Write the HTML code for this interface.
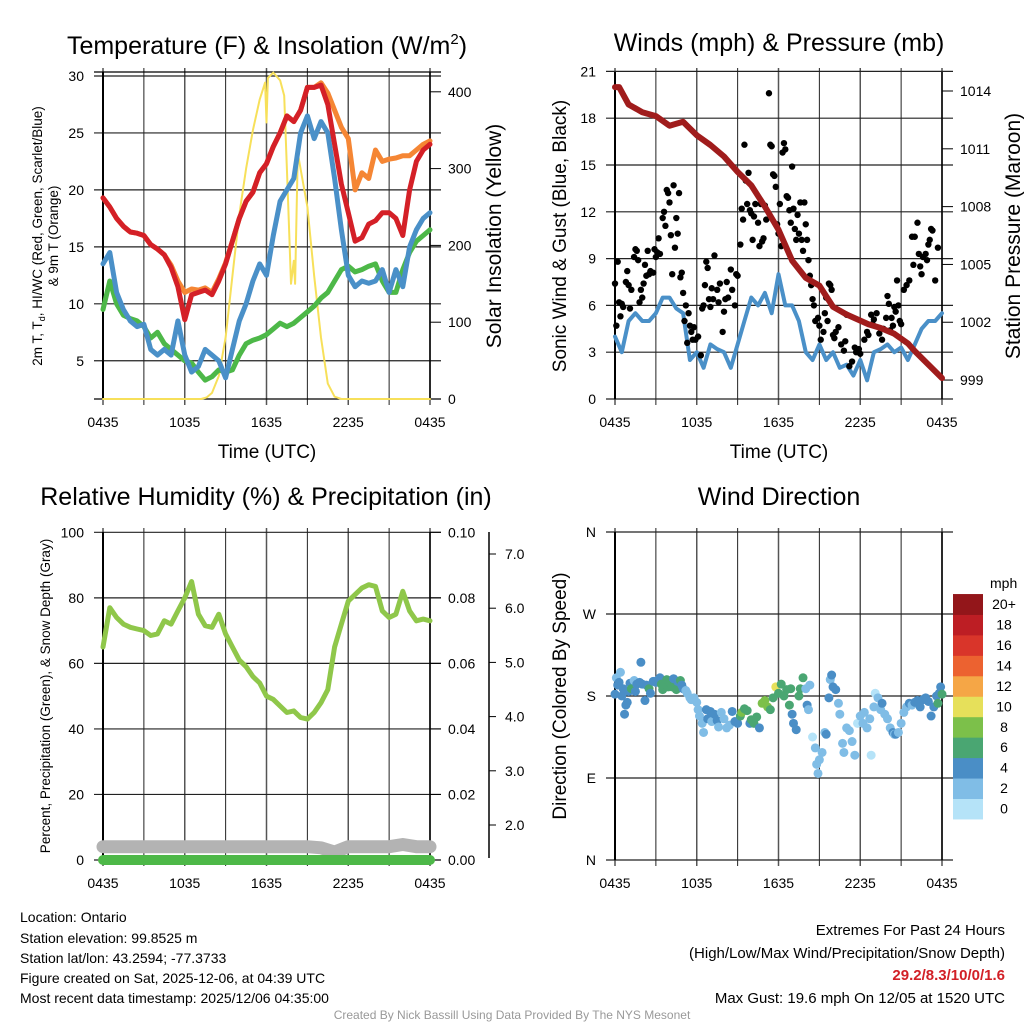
<!DOCTYPE html>
<html><head><meta charset="utf-8"><style>
html,body{margin:0;padding:0;background:#fff}
svg{display:block;font-family:"Liberation Sans",sans-serif}
</style></head><body>
<svg id="chart" width="1024" height="1024" viewBox="0 0 1024 1024" xmlns="http://www.w3.org/2000/svg">
<rect width="1024" height="1024" fill="#fff"/>
<g id="g"></g>
<g font-size="25" text-anchor="middle" fill="#000">
<text x="267" y="54">Temperature (F) &amp; Insolation (W/m<tspan dy="-10" font-size="15">2</tspan><tspan dy="10">)</tspan></text>
<text x="779" y="51">Winds (mph) &amp; Pressure (mb)</text>
<text x="266" y="505">Relative Humidity (%) &amp; Precipitation (in)</text>
<text x="779" y="505">Wind Direction</text>
</g>
<g font-size="19" text-anchor="middle">
<text x="267" y="458">Time (UTC)</text>
<text x="779" y="458">Time (UTC)</text>
<text transform="translate(501,236) rotate(-90)" font-size="21">Solar Insolation (Yellow)</text>
<text transform="translate(1020,236) rotate(-90)" font-size="21">Station Pressure (Maroon)</text>
<text transform="translate(566,236) rotate(-90)">Sonic Wind &amp; Gust (Blue, Black)</text>
<text transform="translate(566,696) rotate(-90)">Direction (Colored By Speed)</text>
</g>
<g font-size="13.5" text-anchor="middle">
<text transform="translate(42,236) rotate(-90)">2m T, T<tspan font-size="9" dy="3">d</tspan><tspan dy="-3">, HI/WC (Red, Green, Scarlet/Blue)</tspan></text>
<text transform="translate(58,236) rotate(-90)">&amp; 9m T (Orange)</text>
<text transform="translate(50,696) rotate(-90)">Percent, Precipitation (Green), &amp; Snow Depth (Gray)</text>
</g>
<g font-size="14" fill="#000">
<text x="20" y="922">Location: Ontario</text>
<text x="20" y="943">Station elevation: 99.8525 m</text>
<text x="20" y="963">Station lat/lon: 43.2594; -77.3733</text>
<text x="20" y="983">Figure created on Sat, 2025-12-06, at 04:39 UTC</text>
<text x="20" y="1003">Most recent data timestamp: 2025/12/06 04:35:00</text>
<g text-anchor="end" font-size="15">
<text x="1005" y="935">Extremes For Past 24 Hours</text>
<text x="1005" y="958">(High/Low/Max Wind/Precipitation/Snow Depth)</text>
<text x="1005" y="980" fill="#d22027" font-weight="bold">29.2/8.3/10/0/1.6</text>
<text x="1005" y="1003">Max Gust: 19.6 mph On 12/05 at 1520 UTC</text>
</g>
<text x="512" y="1019" text-anchor="middle" font-size="12" fill="#999">Created By Nick Bassill Using Data Provided By The NYS Mesonet</text>
</g>
</svg>
<script>
// ---- data ----
const halfHours=[0,0.5,1,1.5,2,2.5,3,3.5,4,4.5,5,5.5,6,6.5,7,7.5,8,8.5,9,9.5,10,10.5,11,11.5,12,12.5,13,13.5,14,14.5,15,15.5,16,16.5,17,17.5,18,18.5,19,19.5,20,20.5,21,21.5,22,22.5,23,23.5,24];
const tempRed=[19.3,18.5,17.5,16.8,16.3,16.2,16.0,15.2,14.8,14.3,13.2,11.5,8.6,10.8,11.0,11.2,10.8,12.0,13.5,15.5,17.5,19.0,19.8,21.5,22.3,23.8,25.0,26.5,26.0,27.0,29.0,29.0,29.2,27.5,24.0,20.5,18.0,15.5,15.8,17.0,17.3,18.0,18.0,17.5,16.0,20.0,22.5,23.5,24.0];
const tempOrange=[19.3,18.5,17.5,16.8,16.3,16.2,16.0,15.2,14.8,14.3,13.4,12.0,11.0,11.3,11.2,11.4,11.0,12.2,13.6,15.5,17.5,19.0,19.8,21.5,22.3,23.8,25.0,26.5,26.0,27.0,29.0,29.0,29.4,28.5,27.0,25.5,24.5,20.0,21.5,21.0,23.5,22.5,22.7,22.8,23.0,23.0,23.5,24.0,24.3];
const tempBlue=[13.5,14.5,11,9.5,8.5,8.0,8.2,6.0,5.5,6.0,5.5,8.5,5.5,4.0,4.5,6.0,5.5,5.0,3.5,6.0,8.5,10.0,12.0,13.5,12.5,16.0,19.0,20.0,21.0,25.0,26.5,24.5,26.0,25.0,21.0,16.5,12.5,11.5,12.0,11.8,12.0,13.0,11.0,13.0,11.5,15.0,16.5,17.5,18.0];
const dewGreen=[9.5,12,10,9,8.7,8.5,8.0,7.0,7.5,6.5,6.0,5.5,5.0,4.8,4.0,3.3,3.6,4.2,4.0,4.2,5.5,6.5,6.8,7.0,7.3,7.8,8.3,8.0,8.3,8.8,9.3,9.8,10.5,11.0,12.0,13.0,13.3,12.8,13.0,13.3,13.5,12.0,11.0,11.0,13.0,14.5,15.5,16.0,16.5];
const solarHours=[0,7.2,7.6,8,8.5,9,9.5,10,10.5,11,11.5,11.9,12.0,12.1,12.5,13,13.3,13.6,13.8,14.0,14.1,14.3,14.6,15,15.5,16,16.5,17,17.5,24];
const solarVals=[0,0,2,8,30,80,160,240,300,350,390,412,360,418,425,415,395,250,150,180,150,320,290,250,160,80,20,3,0,0];
const windSpeed=[4,3,5,5.5,5,5,5.5,6.5,6.5,5.8,5.5,2.5,3.0,2.0,3.5,3.2,3.0,2.0,3.5,5.0,6.5,6.0,6.8,5.5,8.0,6.0,6.0,5.0,3.0,2.5,3.5,2.5,3.0,2.0,2.2,1.5,2.5,1.2,3.0,3.2,3.5,3.0,3.3,2.5,3.5,4.5,5.0,5.0,5.5];
const pressHours=[0,0.3,1,2,3,4,5,6,7,8,9,10,11,12,13,14,15,16,17,18.6,19.5,20.5,21.5,22,23,24];
const pressVals=[1014.2,1014.2,1013.3,1012.9,1012.7,1012.2,1012.4,1011.7,1011.2,1010.6,1009.8,1009.1,1008.0,1006.8,1005.2,1004.3,1003.9,1002.8,1002.4,1001.9,1001.7,1001.4,1000.9,1000.5,999.8,999.1];
const gustHours=[0,0.1,0.2,0.3,0.4,0.5,0.6,0.8,0.9,1.0,1.1,1.2,1.4,1.5,1.6,1.7,1.8,1.9,2.0,2.1,2.2,2.3,2.4,2.5,2.6,2.8,2.9,3.0,3.1,3.2,3.3,3.5,3.6,3.7,3.8,3.9,4.0,4.1,4.2,4.3,4.4,4.5,4.6,4.7,4.8,4.9,5.0,5.1,5.2,5.3,5.4,5.5,5.6,5.7,5.8,5.9,6.1,6.3,6.4,6.5,6.6,6.7,6.8,6.9,7.0,7.1,7.2,7.3,7.5,7.6,7.7,7.9,8.0,8.1,8.2,8.3,8.5,8.6,8.8,8.9,9.0,9.2,9.3,9.4,9.5,9.6,9.7,9.8,9.9,10.0,10.1,10.2,10.3,10.5,10.6,10.7,10.8,10.9,11.0,11.1,11.3,11.4,11.5,11.6,11.7,11.8,11.9,12.0,12.1,12.2,12.3,12.4,12.5,12.6,12.7,12.8,12.9,13.0,13.1,13.2,13.3,13.4,13.5,13.6,13.7,13.8,13.9,14.0,14.1,14.2,14.3,14.4,14.5,14.6,14.7,14.9,15.0,15.1,15.3,15.4,15.5,15.6,15.7,15.8,15.9,16.0,16.1,16.2,16.4,16.6,16.8,16.9,17.0,17.2,17.4,17.6,17.7,17.9,18.0,18.3,18.5,18.6,18.8,18.9,19.0,19.2,19.4,19.6,19.7,19.9,20.0,20.1,20.2,20.3,20.4,20.5,20.6,20.7,20.8,20.9,21.0,21.2,21.4,21.6,21.8,21.9,22.0,22.2,22.3,22.4,22.5,22.6,22.8,22.9,23.0,23.1,23.2,23.3,23.5,23.7];
const gustVals=[7.4,4.7,8.8,6.2,5.3,6.1,5.9,7.5,8.2,7.3,5.8,7.0,9.1,9.6,9.5,8.9,6.2,7.0,6.5,7.4,8.6,7.9,9.5,8.0,8.2,8.1,9.6,9.1,9.4,10.3,9.3,11.6,12.0,11.1,13.4,13.2,12.6,10.5,8.0,13.7,9.7,11.6,10.6,13.2,7.8,8.1,6.8,5.0,6.0,3.6,5.5,4.7,4.3,3.8,4.6,3.8,4.0,2.8,5.8,6.0,7.3,8.8,8.4,6.4,5.9,7.1,6.4,9.2,7.0,6.2,7.4,4.3,5.6,6.4,7.5,6.5,8.3,7.0,6.0,8.0,7.9,9.9,12.2,11.5,16.3,14.0,12.5,14.5,12.1,11.9,10.2,11.7,12.5,11.3,9.8,12.5,10.1,10.3,12.4,11.5,19.6,16.3,16.2,14.4,14.3,13.6,11.2,10.6,12.5,9.8,15.8,16.4,16.0,13.0,12.9,12.1,11.3,14.9,12.2,10.9,10.2,11.8,10.6,12.6,10.2,9.5,12.6,11.2,10.2,8.9,7.9,7.3,6.4,6.0,5.0,5.2,4.7,3.8,4.3,5.5,6.5,5.0,7.4,7.3,7.0,4.1,3.9,4.3,4.6,3.5,3.1,3.7,5.4,2.1,2.4,3.3,3.0,3.2,2.9,3.8,4.3,4.1,5.4,4.8,5.1,5.5,4.2,3.8,4.5,5.2,6.6,6.1,4.4,5.2,4.7,5.9,5.6,7.6,6.0,5.0,4.8,7.0,7.3,7.6,10.4,8.6,10.4,11.3,9.3,8.5,8.0,9.1,9.3,8.9,9.9,10.2,10.9,10.8,7.6,9.7];
const rhVals=[65,77,74,72,71,70.5,70,68.5,69,73,72,76,80,85,75,71.5,71,75,69,65,61,59,56,54,50,49,47,45,45.5,43.5,43,45,48,52,65,72,79,81,83,84,83.5,76,74,75,82,76,73,73.5,73];
const hours=[0,1,2,3,4,5,6,7,8,9,10,11,12,13,14,15,16,17,18,19,20,21,22,23,24];
const snowDepth=[1.6,1.6,1.6,1.6,1.6,1.6,1.6,1.6,1.6,1.6,1.6,1.6,1.6,1.6,1.6,1.6,1.58,1.5,1.6,1.6,1.6,1.6,1.64,1.6,1.6];
const precip=[0,0,0,0,0,0,0,0,0,0,0,0,0,0,0,0,0,0,0,0,0,0,0,0,0];
const dirHours=[0,0.1,0.2,0.3,0.4,0.5,0.6,0.7,0.8,0.9,1.0,1.1,1.2,1.4,1.5,1.6,1.8,1.9,2.0,2.2,2.3,2.5,2.6,2.8,3.0,3.1,3.3,3.4,3.5,3.6,3.8,3.9,4.0,4.2,4.3,4.5,4.6,4.8,4.9,5.0,5.2,5.3,5.5,5.6,5.8,6.0,6.1,6.2,6.4,6.5,6.7,6.8,7.0,7.1,7.3,7.5,7.6,7.8,8.0,8.2,8.4,8.6,8.8,9.0,9.2,9.3,9.5,9.7,9.9,10.0,10.2,10.4,10.6,10.8,11.0,11.2,11.4,11.6,11.8,12.0,12.2,12.4,12.6,12.8,12.9,13.0,13.1,13.3,13.5,13.6,13.8,14.0,14.1,14.2,14.3,14.5,14.7,14.8,14.9,15.0,15.2,15.4,15.5,15.7,15.8,15.9,16.0,16.2,16.4,16.5,16.7,16.8,17.0,17.2,17.4,17.6,17.8,18.0,18.2,18.3,18.5,18.7,18.8,19.0,19.1,19.3,19.5,19.6,19.8,20.0,20.2,20.4,20.5,20.6,20.8,21.0,21.2,21.4,21.6,21.8,22.0,22.2,22.4,22.6,22.8,23.0,23.2,23.4,23.6,23.7,23.8,23.9,24];
const dirDeg=[182,200,192,195,206,180,188,160,170,173,185,194,188,197,185,193,195,217,193,175,192,188,183,196,195,197,200,193,187,193,198,190,195,190,199,187,196,197,192,188,186,183,178,176,178,173,165,158,150,140,165,155,163,152,160,153,146,162,155,145,148,163,152,150,158,162,166,164,150,154,150,157,145,172,175,168,165,178,190,183,193,180,187,170,188,160,150,143,180,188,200,188,170,165,192,135,123,105,95,110,118,140,138,178,198,203,190,187,172,160,128,118,145,142,130,115,150,158,150,162,145,155,115,168,183,178,165,172,160,155,145,140,138,138,140,150,162,168,172,170,173,175,168,176,178,174,158,168,180,172,183,190,182];
const dirSpeed=[4,2,4,4,2,4,4,4,4,4,4,4,6,2,4,4,4,4,4,4,4,6,4,4,4,4,4,6,6,6,6,6,6,6,4,6,4,6,4,4,2,2,2,2,2,2,2,2,2,2,4,4,4,2,4,4,2,2,2,2,2,4,4,4,6,8,6,6,4,6,6,6,4,8,8,8,6,6,10,6,6,6,6,6,6,4,4,4,6,6,6,2,4,2,2,0,2,2,2,2,2,2,4,4,2,4,4,4,2,2,2,2,2,2,2,2,0,2,2,2,2,2,0,2,0,2,2,4,2,2,2,4,2,4,2,2,2,2,4,2,4,4,4,4,4,4,4,4,4,6,4,4,6];
const speedLabels=["0","2","4","6","8","10","12","14","16","18","20+"];
const speedColors=["#b5e3f8","#80bde6","#4a8ec6","#4aa672","#7cc04a","#e6e05a","#f5a646","#ec6230","#d9352a","#bd1e24","#93161a"];

// ---- drawing ----
const NS="http://www.w3.org/2000/svg";
const G=document.getElementById('g');
function mk(tag,attrs,parent){const e=document.createElementNS(NS,tag);for(const k in attrs)e.setAttribute(k,attrs[k]);(parent||G).appendChild(e);return e;}
function xs(ox){return t=>ox+103+t*327/24;}
function line(xf,yf,tArr,vArr,color,w,name){
  const d=tArr.map((t,i)=>(i?'L':'M')+xf(t).toFixed(1)+','+yf(vArr[i]).toFixed(1)).join('');
  const p=mk('path',{d:d,fill:'none',stroke:color,'stroke-width':w,'stroke-linejoin':'round','stroke-linecap':'round'});
  
  
  return p;
}
function frame(ox,top,bottom,yTicks,yf,labels,name){
  const x=xs(ox);
  const grp=mk('g',{});
  
  
  for(let i=0;i<=8;i++){const xx=x(i*3);
    mk('line',{x1:xx,y1:top-4,x2:xx,y2:bottom+6,stroke:i%2?'#222':'#555','stroke-width':i%2?1:1.5},grp);}
  yTicks.forEach((v,i)=>{const yy=yf(v);
    mk('line',{x1:ox+94,y1:yy,x2:ox+441,y2:yy,stroke:'#222','stroke-width':1.2},grp);
    const tx=mk('text',{x:ox+84,y:yy+5,'text-anchor':'end','font-size':14},grp);tx.textContent=labels[i];});
  mk('line',{x1:x(0),y1:top,x2:x(0),y2:bottom,stroke:'#000','stroke-width':2},grp);
  mk('line',{x1:x(24),y1:top,x2:x(24),y2:bottom,stroke:'#000','stroke-width':1.5},grp);
  ['0435','1035','1635','2235','0435'].forEach((l,i)=>{const tx=mk('text',{x:x(i*6),y:bottom+28,'text-anchor':'middle','font-size':14},grp);tx.textContent=l;});
  return x;
}
function rightAxis(ox,vals,yf,labels,name,lx){
  const grp=mk('g',{});
  
  
  vals.forEach((v,i)=>{const yy=yf(v);
    mk('line',{x1:ox+430,y1:yy,x2:ox+441,y2:yy,stroke:'#000','stroke-width':1},grp);
    const tx=mk('text',{x:lx||ox+448,y:yy+5,'font-size':14},grp);tx.textContent=labels[i];});
}
// Panel 1
const yT=v=>76+(30-v)*11.39, yS=v=>399-v*0.768;
const x1=frame(0,72,399,[5,10,15,20,25,30],yT,['5','10','15','20','25','30'],'temp');
mk('line',{x1:94,y1:72,x2:441,y2:72,stroke:'#000','stroke-width':1.2});
mk('line',{x1:94,y1:399,x2:441,y2:399,stroke:'#000','stroke-width':1.2});
rightAxis(0,[0,100,200,300,400],yS,['0','100','200','300','400'],'solar-axis');
line(x1,yS,solarHours,solarVals,'#f7e05a',2,'solar-line');
line(x1,yT,halfHours,dewGreen,'#4db848',5,'dewpoint-line');
line(x1,yT,halfHours,tempBlue,'#4a90c8',5,'windchill-line');
line(x1,yT,halfHours,tempOrange,'#f58634',5,'temp-9m-line');
line(x1,yT,halfHours,tempRed,'#d42027',5,'temp-2m-line');
// Panel 2
const yW=v=>399-v*15.6, yP=v=>91+(1014-v)*19.27;
const x2=frame(512,72,399,[0,3,6,9,12,15,18,21],yW,['0','3','6','9','12','15','18','21'],'winds');
rightAxis(512,[999,1002,1005,1008,1011,1014],yP,['999','1002','1005','1008','1011','1014'],'pressure-axis');
line(x2,yW,halfHours,windSpeed,'#4a90c8',4,'wind-speed-line');
gustHours.forEach((t,i)=>{const c=mk('circle',{cx:x2(t),cy:yW(gustVals[i]),r:3.2,fill:'#000'});
  
  });
line(x2,yP,pressHours,pressVals,'#a01c1c',6,'pressure-line');
// Panel 3
const yR=v=>860-v*3.277, ySn=v=>825-(v-2)*54.2, yPr=v=>860-v*3277;
const x3=frame(0,532,860,[0,20,40,60,80,100],yR,['0','20','40','60','80','100'],'humidity');
rightAxis(0,[0,0.02,0.04,0.06,0.08,0.1],yPr,['0.00','0.02','0.04','0.06','0.08','0.10'],'precip-axis');
const sg=mk('g',{});


mk('line',{x1:489,y1:532,x2:489,y2:858,stroke:'#000','stroke-width':1.5},sg);
[2,3,4,5,6,7].forEach(v=>{mk('line',{x1:489,y1:ySn(v),x2:496,y2:ySn(v),stroke:'#000'},sg);
  const tx=mk('text',{x:505,y:ySn(v)+5,'font-size':14},sg);tx.textContent=v.toFixed(1);});
line(x3,ySn,hours,snowDepth,'#b3b3b3',13,'snow-depth-line');
line(x3,yPr,hours,precip,'#4db848',10,'precip-line');
line(x3,yR,halfHours,rhVals,'#8fc74a',5,'rh-line');
// Panel 4
const yD=d=>860-d*328/360;
const x4=frame(512,532,860,[0,90,180,270,360],yD,['N','E','S','W','N'],'direction');
dirHours.forEach((t,i)=>{const c=mk('circle',{cx:x4(t),cy:yD(dirDeg[i]),r:4.5,fill:speedColors[Math.min(10,Math.floor(dirSpeed[i]/2))]});
  
  });
const lg=mk('g',{});


const lt=mk('text',{x:990,y:588,'font-size':14},lg);lt.textContent='mph';
speedLabels.forEach((l,i)=>{const y=819-(i+1)*20.45;
  mk('rect',{x:953,y:y,width:30,height:20.9,fill:speedColors[i]},lg);
  const tx=mk('text',{x:1004,y:y+15,'text-anchor':'middle','font-size':14},lg);tx.textContent=l;});
</script>
</body></html>
